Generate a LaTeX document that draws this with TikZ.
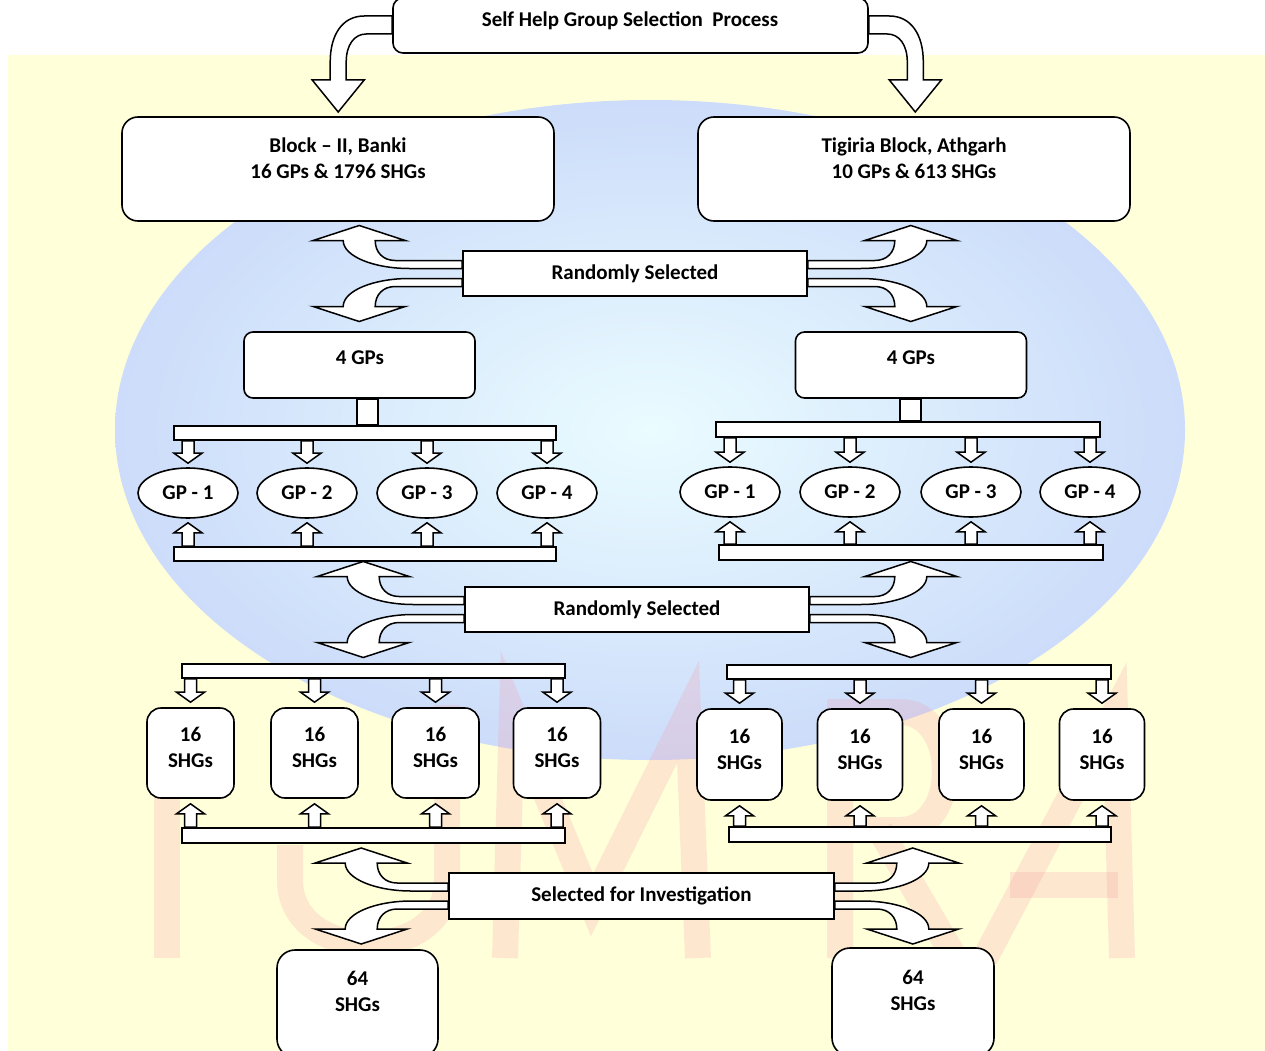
\documentclass[tikz,border=0pt]{standalone}
\usepackage{fontspec}
\setmainfont{Carlito}
\usetikzlibrary{calc,shapes.geometric}
\definecolor{bgyellow}{RGB}{255,255,218}
\definecolor{globeout}{RGB}{204,220,250}
\definecolor{globein}{RGB}{234,252,255}
\definecolor{wmpink}{RGB}{248,150,165}
\newcommand\lblfont{\fontsize{21}{26}\selectfont\bfseries}
\tikzset{
  blockarrow/.style={draw=black, fill=white, line width=1.5pt},
  boxbase/.style={draw=black, fill=white, line width=1.6pt, inner sep=0pt},
  rbox/.style={boxbase, rounded corners=#1},
  sqbox/.style={boxbase, font=\lblfont},
  barbox/.style={boxbase, minimum height=14pt},
  gpell/.style={boxbase, ellipse, minimum width=100pt, minimum height=50pt, font=\lblfont},
  lbl/.style={font=\lblfont, align=center, inner sep=0pt},
}
% curved block arrow beside a text box: #1 anchor, #2 transform, #3 distance to head centre
\newcommand\midarr[3]{\draw[blockarrow, shift={(#1)}, #2, xshift=-#3pt]
  (#3,-13) -- (36,-13) .. controls (24,-13) and (16,-21) .. (16,-33) -- (46,-33) -- (0,-48)
  -- (-46,-33) -- (-16,-33) .. controls (-16,-17) and (15,-5) .. (50,-5) -- (#3,-5) -- cycle;}
% curved block arrow from the top box
\newcommand\toparr[3]{\draw[blockarrow, shift={(#1)}, #2, xshift=-#3pt]
  (#3,-9.5) -- (26,-9.5) .. controls (4,-9.5) and (-8,9.5) .. (-8,36.5) -- (-8,54.5) -- (-26,54.5)
  -- (0,86.5) -- (26,54.5) -- (8,54.5) -- (8,36.5) .. controls (8,19.5) and (16,8.5) .. (28,8.5)
  -- (#3,8.5) -- cycle;}
% small straight block arrow from a bar to a node: #1 bar anchor, #2 target anchor, #3 head base offset, #4 tip offset
\newcommand\blk[4]{\draw[blockarrow] ($(#1 -| #2)+(-6,0)$) -- ($(#2)+(-6,#3)$) -- ($(#2)+(-14,#3)$)
  -- ($(#2)+(0,#4)$) -- ($(#2)+(14,#3)$) -- ($(#2)+(6,#3)$) -- ($(#1 -| #2)+(6,0)$) -- cycle;}
\begin{document}
\begin{tikzpicture}[x=1pt,y=-1pt]
\useasboundingbox (0,0) rectangle (1265,1051);
\clip (0,0) rectangle (1265,1051);
% background watermark
\fill[bgyellow] (8,55) rectangle (1265,1051);
\shade[inner color=globein, outer color=globeout] (650,430) ellipse [x radius=535pt, y radius=330pt];
\begin{scope}[draw=wmpink, line width=26pt, opacity=0.22]
  \draw (167,712) -- (167,958);
  \draw (447,705) -- (447,880) .. controls (447,965) and (290,965) .. (290,880) -- (290,845);
  \draw (505,958) -- (512,712) -- (592,905) -- (688,712) -- (698,958);
  \draw (840,958) -- (840,712) -- (900,712) .. controls (960,712) and (960,830) .. (900,830) -- (850,830);
  \draw (880,830) -- (955,958);
  \draw (985,958) -- (1115,712) -- (1122,958);
  \draw (1010,885) -- (1118,885);
\end{scope}

% top box and blocks
\node[rbox=10pt, minimum width=475pt, minimum height=55pt] (tb) at (630.5,25.5) {};
\node[lbl] (tbt) at (630,21) {Self Help Group Selection\ \ Process};
\node[rbox=16pt, minimum width=432pt, minimum height=104pt] (blkL) at (338,169) {};
\node[rbox=16pt, minimum width=432pt, minimum height=104pt] (blkR) at (914,169) {};
\node[lbl] (blkLt) at (338,158) {Block – II, Banki\\16 GPs \& 1796 SHGs};
\node[lbl] (blkRt) at (914,158) {Tigiria Block, Athgarh\\10 GPs \& 613 SHGs};
\toparr{tb.west}{}{54}
\toparr{tb.east}{xscale=-1}{46.5}

% first random selection
\node[sqbox, minimum width=344pt, minimum height=45pt] (rs1) at (635,273.5) {Randomly Selected};
\midarr{rs1.west}{}{103}
\midarr{rs1.west}{yscale=-1}{103}
\midarr{rs1.east}{xscale=-1}{103}
\midarr{rs1.east}{xscale=-1,yscale=-1}{103}

% 4 GPs boxes
\node[rbox=9pt, minimum width=231pt, minimum height=66pt] (g4L) at (359.5,365) {};
\node[rbox=9pt, minimum width=231pt, minimum height=66pt] (g4R) at (911,365) {};
\node[lbl] (g4Lt) at (360,358) {4 GPs};
\node[lbl] (g4Rt) at (911,358) {4 GPs};
\node[barbox, minimum width=382pt] (barL1) at (365,433) {};
\node[barbox, minimum width=384pt, minimum height=15pt] (barR1) at (908,429.5) {};
\draw[blockarrow] ($(g4L.south)+(-2.5,0)$) rectangle ($(barL1.north -| g4L.south)+(18.5,0)$);
\draw[blockarrow] ($(g4R.south)+(-11,0)$) rectangle ($(barR1.north -| g4R.south)+(10,0)$);

% GP ellipses
\node[gpell] (gl1) at (188,493) {GP - 1};
\node[gpell] (gl2) at (307,493) {GP - 2};
\node[gpell] (gl3) at (427,493) {GP - 3};
\node[gpell] (gl4) at (547,493) {GP - 4};
\node[gpell] (gr1) at (730,492) {GP - 1};
\node[gpell] (gr2) at (850,492) {GP - 2};
\node[gpell] (gr3) at (971,492) {GP - 3};
\node[gpell] (gr4) at (1090,492) {GP - 4};
\node[barbox, minimum width=382pt] (barL2) at (365,554) {};
\node[barbox, minimum width=384pt, minimum height=15pt] (barR2) at (911,552.5) {};
\blk{barL1.south}{gl1.north}{-14}{-4}
\blk{barL1.south}{gl2.north}{-14}{-4}
\blk{barL1.south}{gl3.north}{-14}{-4}
\blk{barL1.south}{gl4.north}{-14}{-4}
\blk{barR1.south}{gr1.north}{-14}{-4}
\blk{barR1.south}{gr2.north}{-14}{-4}
\blk{barR1.south}{gr3.north}{-14}{-4}
\blk{barR1.south}{gr4.north}{-14}{-4}
\blk{barL2.north}{gl1.south}{14}{4}
\blk{barL2.north}{gl2.south}{14}{4}
\blk{barL2.north}{gl3.south}{14}{4}
\blk{barL2.north}{gl4.south}{14}{4}
\blk{barR2.north}{gr1.south}{14}{4}
\blk{barR2.north}{gr2.south}{14}{4}
\blk{barR2.north}{gr3.south}{14}{4}
\blk{barR2.north}{gr4.south}{14}{4}

% second random selection
\node[sqbox, minimum width=344pt, minimum height=45pt] (rs2) at (637,609.5) {Randomly Selected};
\midarr{rs2.west}{}{101}
\midarr{rs2.west}{yscale=-1}{101}
\midarr{rs2.east}{xscale=-1}{101}
\midarr{rs2.east}{xscale=-1,yscale=-1}{101}

% SHG boxes
\node[barbox, minimum width=383pt] (barL3) at (373.5,671) {};
\node[barbox, minimum width=384pt] (barR3) at (919,672) {};
\node[rbox=14pt, minimum width=87pt, minimum height=90pt] (sl1) at (190.5,753) {};
\node[rbox=14pt, minimum width=87pt, minimum height=90pt] (sl2) at (314.5,753) {};
\node[rbox=14pt, minimum width=87pt, minimum height=90pt] (sl3) at (435.5,753) {};
\node[rbox=14pt, minimum width=87pt, minimum height=90pt] (sl4) at (557,753) {};
\node[rbox=14pt, minimum width=85pt, minimum height=91pt] (sr1) at (739.5,754.5) {};
\node[rbox=14pt, minimum width=85pt, minimum height=91pt] (sr2) at (860,754.5) {};
\node[rbox=14pt, minimum width=85pt, minimum height=91pt] (sr3) at (981.5,754.5) {};
\node[rbox=14pt, minimum width=85pt, minimum height=91pt] (sr4) at (1102,754.5) {};
\node[lbl] (slt1) at (190.5,747.5) {16\\SHGs};
\node[lbl] (slt2) at (314.5,747.5) {16\\SHGs};
\node[lbl] (slt3) at (435.5,747.5) {16\\SHGs};
\node[lbl] (slt4) at (557,747.5) {16\\SHGs};
\node[lbl] (srt1) at (739.5,749.5) {16\\SHGs};
\node[lbl] (srt2) at (860,749.5) {16\\SHGs};
\node[lbl] (srt3) at (981.5,749.5) {16\\SHGs};
\node[lbl] (srt4) at (1102,749.5) {16\\SHGs};
\node[barbox, minimum width=383pt, minimum height=15pt] (barL4) at (373.5,835.5) {};
\node[barbox, minimum width=382pt, minimum height=15pt] (barR4) at (920,834.5) {};
\blk{barL3.south}{sl1.north}{-15}{-5}
\blk{barL3.south}{sl2.north}{-15}{-5}
\blk{barL3.south}{sl3.north}{-15}{-5}
\blk{barL3.south}{sl4.north}{-15}{-5}
\blk{barR3.south}{sr1.north}{-15}{-5}
\blk{barR3.south}{sr2.north}{-15}{-5}
\blk{barR3.south}{sr3.north}{-15}{-5}
\blk{barR3.south}{sr4.north}{-15}{-5}
\blk{barL4.north}{sl1.south}{15}{5}
\blk{barL4.north}{sl2.south}{15}{5}
\blk{barL4.north}{sl3.south}{15}{5}
\blk{barL4.north}{sl4.south}{15}{5}
\blk{barR4.north}{sr1.south}{15}{5}
\blk{barR4.north}{sr2.south}{15}{5}
\blk{barR4.north}{sr3.south}{15}{5}
\blk{barR4.north}{sr4.south}{15}{5}

% final selection
\node[sqbox, minimum width=385pt, minimum height=46pt] (rs3) at (641.5,896) {Selected for Investigation};
\midarr{rs3.west}{}{87}
\midarr{rs3.west}{yscale=-1}{87}
\midarr{rs3.east}{xscale=-1}{78}
\midarr{rs3.east}{xscale=-1,yscale=-1}{78}
\node[rbox=18pt, minimum width=161pt, minimum height=107pt] (f64L) at (357.5,1003.5) {};
\node[rbox=18pt, minimum width=162pt, minimum height=108pt] (f64R) at (913,1002) {};
\node[lbl] (f64Lt) at (357.5,991) {64\\SHGs};
\node[lbl] (f64Rt) at (913,990) {64\\SHGs};
\end{tikzpicture}
\end{document}
